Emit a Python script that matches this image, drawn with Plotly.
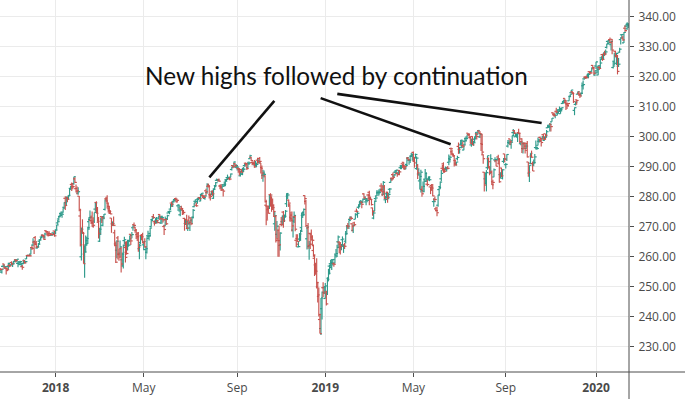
import numpy as np
import pandas as pd
import plotly.graph_objects as go

# ---------------- data (SPY daily bars) ----------------
START, END = "2017-10-16", "2020-02-14"
HOLIDAYS = ["2017-11-23", "2017-12-25", "2018-01-01", "2018-01-15", "2018-02-19",
            "2018-03-30", "2018-05-28", "2018-07-04", "2018-09-03", "2018-11-22",
            "2018-12-05", "2018-12-25", "2019-01-01", "2019-01-21", "2019-02-18",
            "2019-04-19", "2019-05-27", "2019-07-04", "2019-09-02", "2019-11-28",
            "2019-12-25", "2020-01-01", "2020-01-20"]

opens = [
    255.2, 255.2, 255.9, 254.8, 256.7, 257.5, 256.6, 256.2, 255.9, 256.7, 257.0, 257.2,
    258.0, 257.4, 257.8, 258.3, 258.9, 258.5, 257.7, 257.7, 257.3, 257.4, 256.6, 257.5, 258.6, 258.1, 259.2, 260.3, 260.3, 260.4, 260.8, 263.0, 263.8,
    264.8, 266.3, 264.0, 262.8, 263.2, 265.1, 265.6, 266.5, 267.1, 267.1, 266.5, 268.6, 268.5, 268.3, 267.7, 267.6, 267.1, 267.4, 267.9, 268.5,
    267.8, 268.9, 271.2, 272.5, 273.3, 274.4, 273.7, 274.8, 276.4, 279.4, 278.0, 279.5, 279.8, 280.2, 282.7, 284.0, 284.2, 284.3, 285.9, 282.6, 282.7,
    281.1, 280.1, 273.5, 259.9, 268.5, 267.9, 260.8, 263.8, 263.9, 264.3, 271.6, 272.3, 272.0, 271.9, 271.1, 271.8, 275.8, 278.0, 275.9,
    271.4, 265.1, 267.5, 273.3, 270.4, 273.3, 275.7, 279.2, 279.4, 277.8, 275.9, 274.5, 272.8, 270.9, 270.9, 267.9, 264.2, 262.1, 266.2, 260.8, 261.1,
    262.6, 258.9, 256.8, 265.3, 263.0, 261.4, 263.7, 263.4, 265.3, 267.4, 267.0, 269.6, 270.6, 269.6, 268.7, 267.3, 267.8, 262.6, 264.7, 267.0, 267.3,
    263.9, 264.8, 262.3, 261.4, 266.9, 266.5, 267.7, 270.0, 272.3, 273.3, 271.6, 271.1, 271.9, 271.9, 272.8, 274.0, 271.2, 273.0, 272.5, 270.0, 270.2, 272.3,
    272.4, 274.5, 275.0, 275.8, 277.8, 276.8, 278.4, 279.0, 279.3, 279.0, 276.9, 275.5, 273.9, 276.1, 275.8, 275.4, 272.7, 271.0, 272.3, 269.3, 272.1,
    269.5, 272.9, 272.2, 273.1, 276.6, 278.4, 277.1, 278.3, 279.2, 279.6, 278.5, 280.6, 280.3, 279.8, 279.4, 281.9, 281.3, 283.4, 283.7, 280.6, 280.7,
    281.6, 279.4, 282.5, 283.6, 285.4, 285.4, 285.5, 283.5, 283.5, 282.9, 282.4, 283.4, 283.8, 285.6, 286.3, 286.0, 285.9, 286.4, 289.0, 290.3, 290.2, 290.9, 289.8,
    289.8, 289.4, 289.2, 286.9, 289.0, 287.4, 289.1, 290.3, 291.1, 290.9, 289.6, 291.1, 292.6, 293.1, 291.3, 291.5, 290.9, 290.4, 289.9,
    292.1, 291.6, 292.7, 291.2, 289.7, 287.1, 287.2, 286.9, 277.1, 276.8, 275.6, 276.6, 280.6, 279.4, 277.1, 277.0, 270.9, 273.3, 267.4, 265.9, 268.8, 263.7, 270.7,
    271.6, 274.8, 272.4, 273.1, 277.6, 280.1, 278.8, 277.2, 273.1, 273.8, 268.8, 271.8, 273.3, 265.4, 266.0, 263.2, 265.8, 265.8, 269.6, 273.7, 274.7,
    280.3, 278.4, 265.9, 269.5, 263.4, 267.7, 267.5, 266.5, 262.0, 259.4, 257.2, 255.2, 249.9, 246.7, 239.0, 236.0, 242.6, 249.6, 249.6,
    246.0, 248.2, 247.6, 252.7, 256.8, 257.6, 256.3, 257.7, 257.6, 257.8, 260.8, 259.9, 264.9, 264.8, 264.1, 263.2, 265.6, 263.4, 263.9, 265.1, 267.5,
    270.2, 270.1, 272.4, 272.8, 270.9, 268.7, 271.2, 272.4, 275.1, 273.9, 276.4, 276.5, 278.1, 278.1, 278.0, 280.9, 279.1, 278.2, 278.7,
    280.5, 281.4, 279.5, 279.0, 276.2, 272.8, 275.2, 279.3, 280.2, 281.2, 280.5, 281.5, 283.5, 282.0, 280.6, 283.2, 278.9, 280.9, 281.4, 280.0, 282.4,
    284.7, 286.1, 287.3, 286.8, 288.1, 288.1, 287.7, 287.8, 288.7, 289.6, 290.2, 290.9, 291.4, 290.1, 289.2, 290.7, 292.8, 292.1, 292.1, 293.5, 293.5,
    294.7, 291.7, 292.8, 289.3, 290.2, 287.5, 285.2, 285.6, 282.4, 282.0, 281.6, 285.8, 285.1, 284.1, 285.8, 285.5, 283.2, 283.7, 283.1, 278.3, 279.1, 275.9,
    275.3, 277.1, 282.3, 283.3, 285.9, 289.4, 290.9, 288.6, 289.4, 288.9, 289.5, 291.4, 292.6, 296.0, 294.9, 294.2, 293.6, 292.0, 291.1, 292.6,
    296.7, 295.7, 297.2, 297.6, 297.0, 295.5, 298.4, 299.3, 299.8, 301.1, 300.6, 299.6, 297.2, 300.0, 297.6, 299.1, 299.2, 300.9, 300.8, 301.9, 299.9, 301.0,
    297.6, 293.9, 288.1, 285.9, 284.4, 289.6, 292.6, 290.0, 287.7, 288.1, 284.9, 286.5, 292.2, 291.9, 292.2, 293.2, 290.9, 287.3, 289.5, 286.1, 291.7, 294.2,
    290.6, 292.4, 296.8, 298.0, 299.2, 297.4, 298.6, 301.3, 302.0, 299.9, 300.2, 300.5, 301.3, 301.0, 297.6, 299.2, 296.0, 297.6, 297.8, 296.0,
    297.7, 291.5, 287.8, 291.1, 293.5, 291.0, 290.7, 291.2, 296.3, 295.9, 297.1, 298.4, 299.7, 298.7, 299.4, 300.6, 298.7, 300.9, 299.7, 302.9, 303.0, 303.4, 304.1,
    304.9, 307.9, 307.4, 307.0, 308.4, 307.8, 307.9, 308.8, 307.6, 308.9, 311.0, 311.5, 312.7, 311.3, 310.9, 311.1, 311.9, 313.4, 314.6, 314.9,
    314.6, 308.7, 310.7, 312.2, 314.1, 314.4, 313.8, 314.0, 314.4, 316.9, 319.2, 319.8, 319.9, 319.6, 320.5, 321.6, 321.5, 321.7, 323.7, 322.9, 320.5,
    323.5, 321.2, 320.5, 323.0, 323.0, 326.2, 327.3, 325.9, 327.6, 327.4, 329.7, 331.7, 330.9, 332.3, 330.6, 332.4, 323.0, 325.1, 328.4, 324.4, 327.0,
    323.4, 328.1, 332.3, 333.9, 332.8, 331.2, 336.1, 336.8, 335.9, 337.5,
]

highs = [
    255.5, 255.5, 256.1, 255.8, 257.1, 257.6, 256.8, 256.3, 256.3, 257.9, 257.4, 257.4,
    258.4, 257.8, 258.5, 259.0, 259.0, 259.2, 258.4, 258.3, 258.6, 257.9, 257.2, 259.0, 258.8, 258.5, 260.5, 260.6, 260.5, 260.7, 263.0, 263.6, 266.1,
    265.3, 266.8, 265.2, 263.6, 264.5, 265.5, 266.3, 267.3, 267.3, 267.2, 267.9, 268.6, 268.5, 268.3, 268.4, 267.6, 267.4, 267.7, 267.9, 268.6,
    268.8, 270.6, 272.2, 273.6, 274.1, 275.0, 274.4, 276.1, 278.1, 280.1, 280.0, 279.9, 280.4, 282.7, 283.6, 284.7, 284.3, 286.6, 286.4, 284.0, 283.3,
    283.1, 280.2, 275.9, 269.7, 272.4, 268.2, 263.6, 267.0, 266.6, 269.9, 273.1, 275.3, 273.7, 275.0, 273.1, 274.7, 278.0, 278.4, 276.5,
    273.2, 269.6, 273.0, 273.4, 273.2, 274.2, 278.9, 279.9, 280.4, 278.0, 276.9, 275.4, 272.8, 271.7, 273.3, 268.9, 265.0, 265.4, 266.8, 262.6, 265.3,
    263.1, 261.3, 264.0, 266.6, 265.0, 265.1, 265.6, 265.6, 267.0, 267.5, 268.2, 270.4, 271.3, 269.9, 269.0, 268.0, 268.2, 264.3, 267.0, 267.3, 267.9,
    265.1, 266.1, 263.4, 266.4, 268.6, 267.3, 269.6, 272.1, 273.0, 274.2, 272.0, 272.8, 273.2, 272.2, 273.7, 274.1, 273.4, 273.3, 272.8, 270.6, 273.3, 272.6,
    273.9, 275.2, 275.3, 277.5, 278.3, 278.3, 279.2, 279.5, 279.7, 279.3, 277.5, 276.7, 275.8, 276.9, 276.2, 275.5, 272.9, 272.6, 273.9, 271.8, 273.7,
    272.0, 272.9, 273.2, 275.8, 277.9, 279.0, 278.0, 279.4, 279.8, 279.8, 280.9, 281.2, 280.7, 280.5, 280.4, 282.6, 284.4, 284.3, 283.8, 281.0, 282.0,
    282.1, 282.6, 283.7, 284.8, 286.0, 285.8, 286.0, 284.0, 284.2, 284.2, 282.5, 285.0, 285.6, 285.9, 287.3, 286.6, 286.6, 287.7, 289.9, 290.4, 291.7, 291.2, 290.8,
    290.2, 289.6, 289.5, 288.7, 289.1, 289.6, 289.8, 291.0, 291.3, 291.0, 291.6, 291.7, 293.9, 293.2, 291.5, 291.6, 292.2, 291.9, 291.3,
    292.9, 292.4, 293.2, 291.2, 290.3, 288.9, 288.7, 287.1, 278.9, 277.0, 277.0, 280.6, 281.1, 280.1, 279.3, 277.4, 274.9, 273.8, 271.8, 268.9, 270.3, 268.1, 273.2,
    273.7, 275.2, 274.0, 275.5, 281.1, 280.8, 279.0, 277.4, 274.9, 275.0, 273.4, 275.0, 273.7, 267.4, 267.4, 265.1, 267.8, 268.9, 274.6, 275.0, 276.0,
    280.4, 278.8, 270.0, 271.2, 265.2, 267.9, 269.0, 267.1, 264.0, 260.6, 257.9, 259.4, 251.6, 249.7, 240.8, 246.2, 248.3, 251.4, 250.2,
    251.2, 248.6, 253.1, 255.9, 257.3, 258.9, 259.2, 259.0, 258.0, 260.7, 262.5, 263.9, 267.0, 265.1, 264.8, 264.2, 266.7, 263.8, 264.6, 268.5, 270.5,
    271.2, 272.0, 273.4, 273.3, 271.1, 270.6, 271.6, 274.4, 276.0, 275.3, 277.4, 278.6, 278.8, 278.3, 279.3, 281.1, 280.2, 279.4, 279.0,
    280.9, 281.9, 280.0, 279.2, 276.3, 274.8, 278.7, 280.2, 282.1, 282.0, 282.4, 282.7, 284.4, 283.8, 285.2, 283.8, 280.2, 281.6, 281.6, 281.2, 282.8,
    286.2, 286.3, 288.0, 287.5, 288.8, 288.9, 288.1, 288.4, 288.8, 290.4, 290.4, 291.0, 291.4, 290.3, 290.4, 293.1, 293.2, 292.6, 293.5, 294.5, 294.3,
    295.0, 293.2, 294.3, 293.3, 290.8, 289.4, 287.3, 288.9, 283.5, 285.0, 285.8, 289.2, 288.1, 285.6, 286.7, 286.7, 283.3, 284.2, 284.2, 279.4, 280.0, 276.6,
    276.6, 280.6, 283.0, 285.0, 288.8, 290.6, 291.4, 289.3, 290.0, 289.6, 290.2, 294.0, 293.6, 296.3, 295.5, 294.4, 293.6, 292.3, 291.5, 293.6,
    298.0, 296.5, 298.8, 298.8, 298.3, 297.5, 299.7, 299.6, 300.7, 301.1, 300.9, 300.1, 299.3, 300.1, 298.5, 300.0, 301.5, 301.0, 302.2, 301.9, 301.2, 301.2,
    300.9, 294.1, 288.2, 288.0, 288.8, 293.6, 293.0, 290.1, 294.1, 288.7, 285.6, 289.3, 293.1, 292.2, 293.0, 293.9, 292.8, 288.0, 289.6, 289.1, 292.8, 294.2,
    291.2, 294.1, 298.8, 298.8, 299.2, 298.2, 300.3, 302.5, 302.2, 301.1, 301.0, 301.1, 302.6, 301.2, 298.5, 299.4, 298.2, 297.9, 298.0, 297.6,
    298.5, 291.5, 290.4, 294.4, 295.3, 291.7, 292.3, 294.2, 298.7, 296.7, 299.7, 299.0, 300.0, 299.4, 300.2, 300.9, 299.9, 300.9, 302.2, 303.9, 304.0, 304.5, 304.1,
    306.2, 308.0, 308.0, 307.4, 309.6, 309.0, 308.5, 310.0, 309.6, 309.7, 311.8, 312.3, 312.7, 311.9, 311.0, 311.2, 313.4, 314.1, 315.5, 315.1,
    314.7, 309.7, 311.7, 312.3, 315.0, 315.2, 314.6, 314.6, 318.0, 318.7, 319.8, 319.9, 320.3, 320.9, 321.0, 321.7, 321.5, 323.0, 323.8, 323.1, 322.1,
    324.9, 323.6, 323.7, 323.5, 325.8, 326.7, 327.5, 328.0, 328.6, 329.0, 330.9, 332.0, 332.2, 333.0, 331.8, 332.5, 325.1, 327.9, 328.6, 327.9, 327.2,
    326.2, 329.6, 333.1, 334.2, 333.6, 334.8, 337.0, 337.6, 338.1, 337.7,
]

lows = [
    254.8, 254.9, 255.4, 254.3, 256.4, 255.9, 256.2, 254.0, 255.5, 255.6, 256.4, 256.8,
    257.1, 256.5, 257.3, 258.2, 258.0, 258.2, 256.4, 257.3, 257.3, 256.5, 255.6, 257.5, 257.6, 257.7, 259.2, 260.0, 260.2, 260.0, 260.7, 262.2, 263.5,
    260.8, 264.1, 262.8, 262.7, 263.0, 264.0, 265.4, 266.1, 266.6, 265.6, 265.9, 267.9, 266.9, 266.7, 267.3, 266.9, 266.9, 267.0, 267.4, 266.6,
    267.4, 268.9, 270.6, 271.9, 273.0, 273.6, 272.9, 274.6, 276.2, 275.5, 276.9, 278.1, 278.9, 280.1, 282.2, 281.8, 282.4, 283.9, 284.5, 281.3, 280.7,
    280.6, 275.1, 263.3, 258.7, 267.6, 257.6, 252.9, 261.3, 263.6, 264.2, 268.8, 272.3, 270.8, 269.9, 269.6, 271.2, 274.9, 274.4, 271.6,
    266.0, 264.8, 267.2, 271.2, 270.1, 272.4, 275.3, 278.1, 276.0, 274.7, 274.2, 274.1, 267.9, 270.2, 270.2, 263.4, 257.8, 259.4, 259.0, 258.6, 259.9,
    254.7, 256.8, 256.0, 263.9, 258.0, 260.6, 262.0, 263.4, 264.8, 263.8, 266.1, 268.6, 269.9, 267.9, 265.8, 265.2, 261.6, 259.1, 264.0, 265.4, 264.4,
    262.1, 263.0, 259.1, 261.0, 266.4, 265.3, 266.7, 269.9, 271.8, 272.6, 270.3, 271.1, 271.0, 271.1, 272.3, 272.2, 270.8, 270.9, 271.3, 267.2, 270.1, 270.5,
    272.2, 274.4, 274.1, 275.5, 276.6, 276.5, 278.3, 278.6, 278.1, 278.1, 275.9, 274.9, 273.4, 275.7, 273.8, 274.2, 268.6, 270.5, 269.2, 268.5, 270.7,
    268.5, 270.4, 270.8, 272.7, 276.4, 278.0, 276.6, 277.6, 278.8, 279.0, 278.4, 280.1, 279.4, 279.4, 278.9, 280.4, 280.9, 283.0, 279.3, 278.7, 280.4,
    280.2, 279.2, 282.3, 283.1, 285.2, 284.9, 284.9, 282.4, 281.8, 282.5, 280.0, 283.3, 283.4, 285.1, 285.9, 285.8, 285.4, 286.4, 288.7, 289.4, 289.8, 289.8, 289.4,
    288.7, 287.9, 287.0, 286.7, 287.9, 287.1, 288.2, 289.9, 290.0, 288.8, 289.5, 290.6, 292.5, 291.8, 290.4, 290.7, 289.6, 290.1, 289.8,
    290.9, 291.0, 291.0, 287.7, 285.8, 284.9, 286.3, 278.0, 270.4, 272.4, 274.3, 275.8, 276.6, 274.9, 275.5, 273.2, 268.6, 264.7, 266.2, 259.9, 259.9, 262.0, 270.1,
    270.4, 269.6, 271.5, 273.0, 276.5, 279.2, 276.5, 271.7, 271.6, 268.3, 266.3, 271.2, 268.4, 263.2, 264.9, 263.1, 265.0, 265.2, 268.3, 272.8, 273.5,
    277.3, 269.8, 262.3, 262.6, 258.9, 262.5, 265.4, 263.4, 259.9, 253.5, 253.9, 249.3, 244.7, 240.0, 234.3, 233.8, 239.0, 246.4, 247.5,
    245.9, 243.7, 247.2, 251.7, 254.0, 256.7, 255.5, 257.0, 256.6, 257.7, 260.6, 259.8, 263.0, 261.1, 260.7, 262.1, 263.7, 261.2, 262.5, 264.3, 267.3,
    269.2, 269.2, 272.2, 272.2, 268.3, 267.8, 270.1, 272.4, 274.7, 272.9, 275.9, 276.5, 277.3, 276.1, 277.8, 279.3, 278.8, 277.1, 278.1,
    278.9, 277.1, 278.8, 277.0, 273.6, 272.4, 275.1, 278.6, 280.2, 280.9, 280.3, 281.3, 281.5, 280.2, 280.5, 279.2, 277.8, 279.3, 277.9, 279.1, 281.1,
    284.6, 285.2, 285.6, 286.2, 287.7, 287.4, 286.6, 287.3, 287.1, 289.1, 289.1, 289.5, 289.0, 288.9, 289.1, 290.4, 292.1, 290.6, 291.2, 293.4, 291.9,
    291.8, 289.6, 292.7, 288.9, 285.8, 286.9, 282.3, 281.3, 279.9, 281.8, 281.4, 285.7, 284.8, 283.4, 285.5, 285.1, 280.8, 282.1, 280.1, 276.6, 278.3, 275.1,
    273.4, 276.6, 280.3, 282.4, 285.1, 288.7, 287.9, 287.9, 288.9, 288.3, 289.1, 290.4, 291.3, 293.7, 293.9, 293.2, 290.0, 290.3, 290.3, 292.0,
    294.2, 294.3, 297.0, 296.1, 296.2, 295.4, 297.3, 298.3, 299.4, 300.2, 299.4, 297.7, 296.6, 297.1, 296.9, 297.9, 299.1, 299.0, 300.6, 300.9, 299.5, 295.2,
    294.0, 290.9, 281.7, 284.0, 281.7, 288.9, 289.3, 287.1, 287.7, 283.8, 282.4, 286.4, 291.4, 290.1, 291.9, 290.9, 284.6, 286.0, 286.4, 285.7, 291.1, 291.4,
    289.3, 291.8, 296.3, 297.5, 297.1, 295.9, 298.3, 300.4, 300.8, 299.9, 299.6, 298.2, 300.8, 297.8, 297.1, 294.5, 294.3, 295.8, 294.3, 295.8,
    293.0, 286.6, 284.8, 290.8, 292.9, 288.5, 290.1, 291.0, 296.1, 295.6, 297.0, 297.9, 298.2, 296.7, 298.9, 298.9, 298.6, 298.9, 299.7, 302.9, 302.9, 301.7, 301.7,
    304.9, 306.9, 306.6, 306.1, 307.8, 307.0, 307.6, 308.2, 307.6, 308.3, 310.8, 310.9, 311.2, 308.8, 309.2, 309.9, 311.9, 313.1, 314.3, 314.1,
    311.2, 307.1, 310.3, 310.6, 314.0, 313.8, 312.8, 313.4, 314.2, 315.7, 318.9, 319.2, 319.4, 319.6, 319.4, 320.9, 320.9, 321.6, 322.3, 320.6, 320.2,
    322.5, 321.1, 320.4, 322.2, 322.7, 325.5, 325.2, 325.5, 326.8, 327.3, 329.3, 330.8, 330.8, 331.2, 328.7, 327.4, 322.7, 323.8, 326.4, 323.8, 320.7,
    323.2, 327.9, 330.7, 333.0, 331.9, 331.2, 334.9, 336.5, 335.6, 336.2,
]

closes = [
    255.3, 255.5, 255.7, 255.8, 257.1, 256.1, 256.6, 255.3, 255.6, 257.7, 256.8, 257.2,
    257.5, 257.6, 258.5, 258.9, 258.7, 259.1, 258.2, 258.1, 258.3, 257.7, 256.4, 258.6, 257.9, 258.3, 260.4, 260.2, 260.4, 260.2, 262.9, 262.7, 265.0,
    264.5, 264.1, 263.2, 263.2, 264.1, 265.5, 266.3, 266.8, 266.8, 265.7, 267.5, 268.2, 267.2, 267.0, 267.6, 267.5, 267.2, 267.3, 267.9, 266.9,
    268.8, 270.5, 271.6, 273.4, 273.9, 274.5, 274.1, 276.1, 277.9, 277.0, 279.6, 279.1, 280.4, 282.7, 283.3, 283.2, 283.3, 286.6, 284.7, 281.8, 281.9,
    281.6, 275.5, 263.9, 269.1, 267.7, 257.6, 261.5, 265.3, 266.0, 269.6, 273.0, 273.1, 271.4, 270.1, 270.4, 274.7, 277.9, 274.4, 271.7,
    267.7, 269.1, 272.2, 272.9, 272.8, 274.1, 278.9, 278.5, 276.7, 275.3, 275.0, 274.2, 270.5, 271.0, 270.4, 263.7, 258.1, 265.1, 260.6, 259.8, 263.2,
    257.5, 260.8, 263.6, 265.6, 259.7, 261.0, 265.2, 263.8, 265.9, 265.2, 267.3, 270.2, 270.4, 268.9, 266.6, 266.6, 263.0, 263.6, 266.3, 266.6, 264.5,
    265.0, 263.2, 262.6, 266.0, 266.9, 266.9, 269.5, 272.0, 272.9, 273.0, 271.1, 272.2, 272.0, 271.3, 273.4, 272.6, 273.4, 273.0, 272.2, 269.0, 272.6, 270.9,
    273.6, 274.9, 275.1, 277.4, 277.4, 278.2, 278.6, 279.1, 278.2, 278.7, 277.1, 276.6, 275.5, 276.0, 274.2, 274.7, 271.0, 271.6, 269.4, 270.9, 271.3,
    271.9, 270.9, 273.1, 275.4, 277.9, 278.9, 276.9, 279.4, 279.6, 279.3, 280.5, 281.1, 280.0, 279.7, 280.2, 281.6, 284.0, 283.3, 280.4, 280.0, 281.3,
    280.9, 282.4, 283.6, 284.6, 285.6, 285.5, 285.1, 283.2, 282.1, 283.9, 281.8, 284.1, 285.1, 285.7, 286.3, 286.2, 285.8, 287.5, 289.8, 289.9, 291.5, 290.3, 290.3,
    289.8, 289.0, 288.2, 287.6, 288.1, 289.1, 289.1, 290.8, 290.9, 289.3, 290.9, 291.2, 293.6, 292.0, 291.0, 290.8, 289.9, 290.7, 290.7,
    291.7, 291.6, 291.7, 289.4, 287.8, 287.8, 287.4, 278.3, 272.2, 276.0, 274.4, 280.4, 280.5, 276.4, 276.3, 275.0, 273.6, 265.3, 270.1, 265.3, 263.9, 267.8, 270.6,
    273.5, 271.9, 273.4, 275.1, 281.0, 280.5, 277.8, 272.6, 272.1, 270.2, 273.0, 273.7, 269.1, 264.1, 265.0, 263.3, 267.5, 268.4, 274.6, 274.0, 275.7,
    279.3, 270.3, 269.8, 263.6, 264.1, 264.1, 265.5, 265.4, 260.5, 255.4, 255.1, 251.3, 247.2, 240.7, 234.3, 246.2, 248.1, 247.8, 249.9,
    250.2, 244.2, 252.4, 254.4, 256.8, 258.0, 258.9, 259.0, 257.4, 260.4, 261.0, 263.0, 266.5, 262.9, 263.4, 263.6, 265.8, 263.8, 263.4, 267.6, 269.9,
    270.1, 272.0, 273.1, 272.7, 270.1, 270.5, 270.6, 274.1, 275.0, 274.4, 277.4, 277.9, 278.4, 277.4, 279.1, 279.5, 279.3, 279.2, 278.7,
    280.4, 279.4, 279.0, 277.3, 275.0, 274.5, 278.4, 279.5, 281.3, 281.2, 281.3, 282.3, 282.4, 281.6, 284.7, 279.3, 279.0, 281.1, 279.7, 280.7, 282.5,
    285.8, 286.0, 286.4, 287.2, 288.6, 288.8, 287.3, 288.3, 288.2, 290.2, 290.2, 290.3, 289.5, 290.0, 290.3, 292.9, 292.2, 292.1, 293.4, 293.9, 294.0,
    291.8, 291.2, 294.0, 292.8, 287.9, 287.5, 286.7, 288.1, 280.9, 283.4, 285.1, 287.7, 285.8, 284.0, 286.5, 285.6, 282.1, 282.8, 280.2, 278.3, 279.0, 275.3,
    274.6, 280.5, 283.0, 284.8, 287.7, 289.0, 288.9, 288.4, 289.6, 289.3, 289.4, 292.4, 293.1, 295.9, 294.0, 293.6, 290.8, 290.5, 291.5, 293.0,
    295.7, 296.4, 298.8, 298.5, 296.8, 297.2, 298.6, 299.3, 300.7, 300.8, 299.7, 297.7, 298.8, 297.2, 297.9, 300.0, 301.4, 300.0, 302.0, 301.5, 300.7, 297.4,
    294.8, 292.6, 283.8, 287.8, 288.0, 293.6, 291.6, 288.1, 292.6, 283.9, 284.7, 288.9, 292.3, 290.1, 292.5, 292.4, 284.9, 288.0, 286.9, 288.9, 292.6, 292.5,
    290.7, 294.0, 297.8, 298.1, 298.2, 298.1, 300.3, 301.3, 301.1, 300.2, 300.9, 301.1, 301.1, 298.3, 298.2, 295.9, 297.6, 296.8, 295.4, 296.8,
    293.2, 288.1, 290.4, 294.4, 293.1, 288.5, 291.3, 293.2, 296.3, 296.0, 298.9, 298.4, 299.3, 298.0, 300.0, 299.0, 299.9, 300.4, 301.6, 303.3, 303.2, 304.1, 303.3,
    306.1, 307.4, 307.0, 307.1, 308.2, 308.9, 308.4, 309.0, 309.1, 309.6, 311.8, 312.0, 311.9, 310.8, 310.3, 311.0, 313.4, 314.1, 315.5, 314.3,
    311.6, 309.6, 311.5, 312.0, 314.9, 313.9, 313.5, 314.4, 317.1, 317.3, 319.5, 319.6, 319.6, 320.9, 320.7, 321.2, 321.2, 322.9, 322.9, 321.1, 321.9,
    324.9, 322.4, 323.6, 322.7, 324.5, 326.7, 325.7, 328.0, 327.5, 328.2, 330.9, 332.0, 331.3, 331.3, 331.7, 328.8, 323.5, 326.9, 326.6, 327.7, 321.7,
    324.1, 329.1, 332.9, 334.0, 332.2, 334.7, 335.3, 337.4, 337.1, 337.6,
]

TICK_MONTHS = ["2018-01", "2018-05", "2018-09", "2019-01", "2019-05", "2019-09", "2020-01"]
TICK_LABELS = ["<b>2018</b>", "May", "Sep", "<b>2019</b>", "May", "Sep", "<b>2020</b>"]

NOTE_TEXT = "New highs followed by continuation"

# ---------------- styling ----------------
UP_COLOR = "#2f9a8b"
DOWN_COLOR = "#c8534e"
GRID = "#ebebeb"
AXIS = "#4d4d4d"
LABEL = "#4a4a4a"
TICK_HALF = 1.8          # open/close tick length, in bars

dates = pd.bdate_range(START, END, freq="C", holidays=HOLIDAYS)
n = len(dates)
if not (n == len(opens) == len(highs) == len(lows) == len(closes)):
    raise SystemExit(f"length mismatch: dates={n} o={len(opens)} h={len(highs)} l={len(lows)} c={len(closes)}")

o = np.array(opens); h = np.array(highs); l = np.array(lows); c = np.array(closes)
month_str = dates.strftime("%Y-%m")
tickvals = [int(np.argmax(month_str == m)) for m in TICK_MONTHS]


def bar_segments(mask):
    xs, ys = [], []
    for i in np.where(mask)[0]:
        xs += [i, i, None, i - TICK_HALF, i, None, i, i + TICK_HALF, None]
        ys += [l[i], h[i], None, o[i], o[i], None, c[i], c[i], None]
    return xs, ys


fig = go.Figure()
for mask, col in [(c >= o, UP_COLOR), (c < o, DOWN_COLOR)]:
    xs, ys = bar_segments(mask)
    fig.add_trace(go.Scatter(x=xs, y=ys, mode="lines", line=dict(color=col, width=1.15),
                             hoverinfo="skip", showlegend=False))

# annotation text and pointer lines (data coordinates: bar index, price)
fig.add_annotation(x=314.0, y=320.3, text=NOTE_TEXT, showarrow=False,
                   font=dict(family="Lato", size=24.3, color="#111111"))
for x0, y0, x1, y1 in [(256.6, 311.9, 196.1, 286.4),
                       (299.7, 312.8, 420.7, 297.4),
                       (315.2, 314.2, 505.4, 304.5)]:
    fig.add_shape(type="line", xref="x", yref="y", x0=x0, y0=y0, x1=x1, y1=y1,
                  line=dict(color="#111111", width=2.6))

# panel separator lines (extend past the plot like the trading terminal)
fig.add_shape(type="line", xref="paper", yref="paper", x0=1, x1=1, y0=-0.08, y1=1,
              line=dict(color=AXIS, width=1))
fig.add_shape(type="line", xref="paper", yref="paper", x0=0, x1=1.09, y0=0, y1=0,
              line=dict(color=AXIS, width=1))

fig.update_layout(
    width=685, height=399,
    margin=dict(l=0, r=56, t=0, b=27),
    paper_bgcolor="white", plot_bgcolor="white",
    showlegend=False,
    xaxis=dict(range=[1.25, 586.7], tickmode="array", tickvals=tickvals, ticktext=TICK_LABELS,
               showgrid=True, gridcolor=GRID, gridwidth=1, zeroline=False, showline=False,
               ticks="outside", ticklen=4, tickcolor=AXIS, ticklabelstandoff=1,
               tickfont=dict(family="Open Sans", size=12, color=LABEL)),
    yaxis=dict(side="right", range=[221.5, 345.5], tick0=0, dtick=10, tickformat=".2f",
               showgrid=True, gridcolor=GRID, gridwidth=1, zeroline=False, showline=False,
               ticks="outside", ticklen=4, tickcolor=AXIS, ticklabelstandoff=2,
               tickfont=dict(family="Open Sans", size=12, color=LABEL)),
)

# the page body has a default 8px margin; remove it so the chart fills the window
fig.write_html("out.html", config={"displayModeBar": False},
               post_script="document.body.style.margin='0';")
